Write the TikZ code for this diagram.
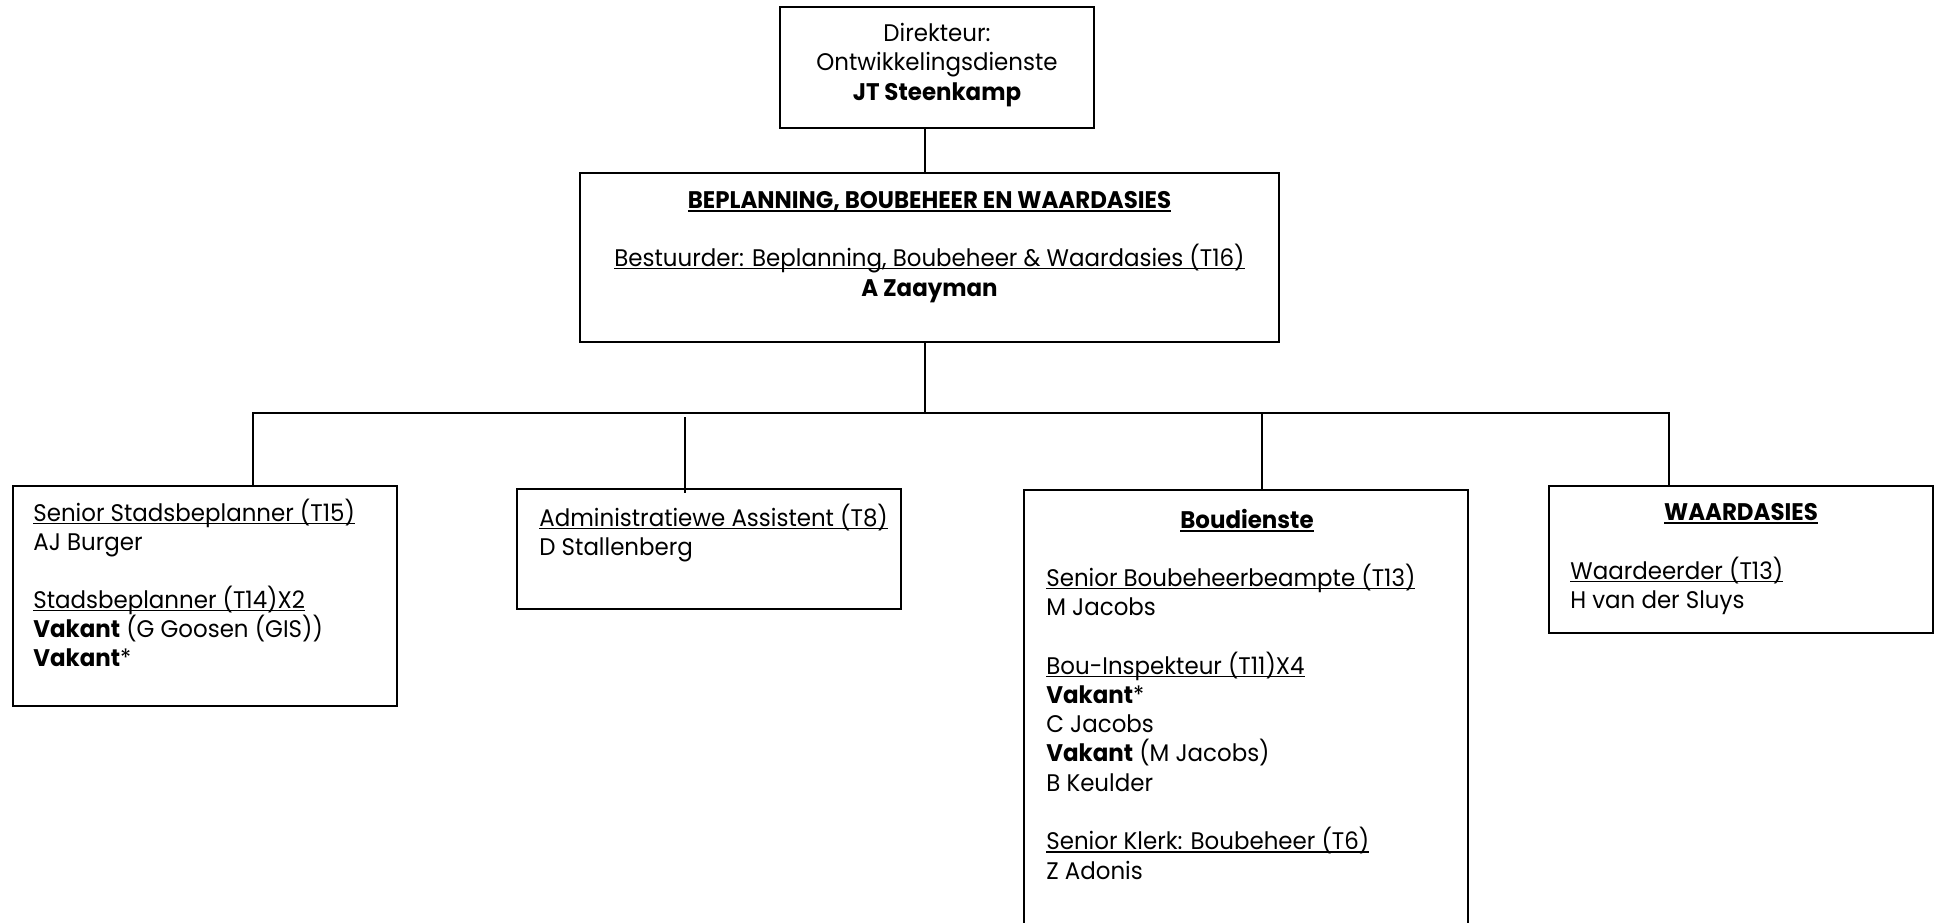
\documentclass[tikz,border=0pt]{standalone}
\usepackage{fontspec}
\setmainfont{Poppins}[FakeStretch=0.955]
\newcommand{\undl}[1]{\setbox0\hbox{#1}\rlap{\rule[-1.6pt]{\wd0}{0.75pt}}\box0}
\newcommand{\undlb}[1]{\setbox0\hbox{#1}\rlap{\rule[-1.8pt]{\wd0}{1pt}}\box0}
\begin{document}
\begin{tikzpicture}[x=0.5pt,y=-0.5pt,
  box/.style={draw=black, line width=1pt, inner sep=0pt, fill=none},
  conn/.style={draw=black, line width=1pt},
  txt/.style={inner sep=0pt, anchor=base west, font=\fontsize{12}{14.65}\selectfont},
  ctxt/.style={txt, anchor=base}]
\clip (0,0) rectangle (1939,922);
\useasboundingbox (0,0) rectangle (1939,922);
\fill[white] (0,0) rectangle (1939,922);

% boxes
\node[box, minimum width=157pt, minimum height=60.5pt] (dir) at (937,67.5) {};
\node[box, minimum width=349.5pt, minimum height=84.5pt] (bbw) at (929.5,257.5) {};
\node[box, minimum width=192pt, minimum height=110pt] (sbp) at (205,596) {};
\node[box, minimum width=192pt, minimum height=60pt] (adm) at (709,549) {};
\node[box, minimum width=222pt, minimum height=225pt] (bou) at (1246,715) {};
\node[box, minimum width=192pt, minimum height=73.5pt] (waa) at (1741,559.5) {};

% junction coordinates
\coordinate (j0) at (925,413);
\coordinate (bl) at (253,413);
\coordinate (br) at (1669,413);
\coordinate (ja) at (685,417);
\coordinate (jc) at (1262,413);

% connectors
\draw[conn] (dir.south -| j0) -- (bbw.north -| j0);
\draw[conn] (bbw.south -| j0) -- (j0);
\draw[conn] (sbp.north -| bl) -- (bl) -- (br) -- (waa.north -| br);
\draw[conn] (ja) -- (adm.north -| ja) -- ++(0,5);
\draw[conn] (jc) -- (bou.north -| jc);

% texts: Direkteur
\node[ctxt] (d1) at (937,41) {Direkteur:};
\node[ctxt] (d2) at (937,70.5) {Ontwikkelingsdienste};
\node[ctxt] (d3) at (937,100) {\textbf{JT Steenkamp}};

% Beplanning
\node[ctxt] (b1) at (929.5,208) {\undlb{\textbf{BEPLANNING, BOUBEHEER EN WAARDASIES}}};
\node[ctxt] (b2) at (929.5,266) {\undl{Bestuurder: Beplanning, Boubeheer \& Waardasies (T16)}};
\node[ctxt] (b3) at (929.5,296) {\textbf{A Zaayman}};

% Stadsbeplanner
\node[txt] (s1) at (33,521) {\undl{Senior Stadsbeplanner (T15)}};
\node[txt] (s2) at (33,550) {AJ Burger};
\node[txt] (s3) at (33,608) {\undl{Stadsbeplanner (T14)X2}};
\node[txt] (s4) at (33,637) {\textbf{Vakant} (G Goosen (GIS))};
\node[txt] (s5) at (33,666) {\textbf{Vakant}*};

% Admin
\node[txt] (a1) at (539,526) {\undl{Administratiewe Assistent (T8)}};
\node[txt] (a2) at (539,555) {D Stallenberg};

% Boudienste
\node[ctxt] (c0) at (1247,528) {\undlb{\textbf{Boudienste}}};
\node[txt] (c1) at (1046,586) {\undl{Senior Boubeheerbeampte (T13)}};
\node[txt] (c2) at (1046,615.3) {M Jacobs};
\node[txt] (c3) at (1046,674) {\undl{Bou-Inspekteur (T11)X4}};
\node[txt] (c4) at (1046,703.2) {\textbf{Vakant}*};
\node[txt] (c5) at (1046,732.5) {C Jacobs};
\node[txt] (c6) at (1046,761.8) {\textbf{Vakant} (M Jacobs)};
\node[txt] (c7) at (1046,791) {B Keulder};
\node[txt] (c8) at (1046,849.6) {\undl{Senior Klerk: Boubeheer (T6)}};
\node[txt] (c9) at (1046,879) {Z Adonis};

% Waardasies
\node[ctxt] (w0) at (1741,520) {\undlb{\textbf{WAARDASIES}}};
\node[txt] (w1) at (1570,579) {\undl{Waardeerder (T13)}};
\node[txt] (w2) at (1570,608) {H van der Sluys};
\end{tikzpicture}
\end{document}
